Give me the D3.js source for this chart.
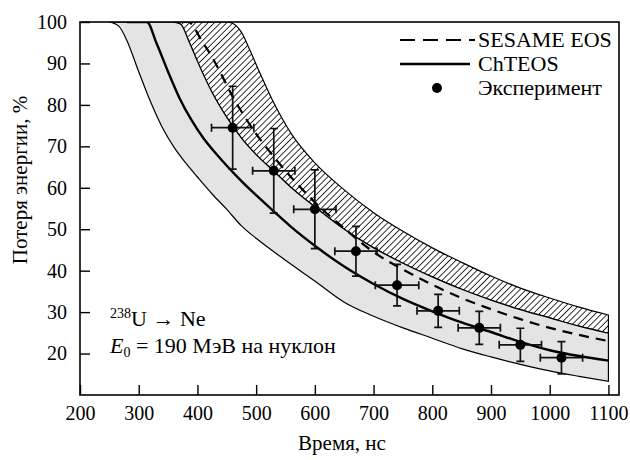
<!DOCTYPE html>
<html>
<head>
<meta charset="utf-8">
<script src="https://cdn.jsdelivr.net/npm/d3@7/dist/d3.min.js"></script>
<style>
  body { margin: 0; background: #fff; }
  svg text { font-family: "Liberation Serif", "Times New Roman", Times, "DejaVu Serif", serif; fill: #000; }
</style>
</head>
<body>
<svg id="chart" width="630" height="460"></svg>
<script>
// ChTEOS (solid line)
const chTime = [280, 314, 330, 350, 370, 390, 410, 430, 450, 475, 500, 530, 560, 600, 650, 700, 750, 800, 850, 900, 950, 1000, 1050, 1100];
const chLoss = [100, 100, 95, 88, 81.5, 76.3, 72, 68.5, 65.3, 61.6, 58.2, 54.3, 50.5, 46, 41, 36.8, 33.2, 30.2, 27.5, 25.2, 22.8, 20.8, 19.4, 18.3];

// SESAME EOS (dashed line)
const sesTime = [375, 385, 395, 405, 425, 442, 460, 479, 500, 530, 560, 600, 650, 700, 750, 800, 850, 900, 950, 1000, 1050, 1100];
const sesLoss = [100, 100, 98.5, 96, 91.5, 87, 82, 77.5, 73, 67.5, 62.5, 56.5, 50.2, 44.5, 40.3, 36.6, 33.4, 30.7, 28.3, 26.2, 24.5, 23];

// grey band (ChTEOS uncertainty), lower and upper edges
const greyLoTime = [250, 266, 280, 300, 320, 340, 360, 380, 400, 425, 450, 475, 500, 550, 600, 650, 700, 750, 800, 850, 900, 950, 1000, 1050, 1100];
const greyLoLoss = [100, 99, 95.5, 88, 80.8, 74.6, 69.8, 66, 62.6, 58.5, 54.8, 50.8, 47.8, 42.5, 37.5, 32.4, 29, 26.2, 23.7, 21.2, 19.2, 17.4, 15.8, 14.5, 13.3];
const greyHiTime = [355, 371, 385, 400, 425, 450, 475, 500, 530, 560, 600, 650, 700, 750, 800, 850, 900, 950, 1000, 1050, 1100];
const greyHiLoss = [100, 99.5, 95.5, 90.5, 83, 77, 72, 68, 64, 60, 55.4, 50, 45.5, 41.8, 38.5, 35.5, 32.9, 30.6, 28.6, 26.6, 24.9];

// hatched band (SESAME uncertainty), upper edge
const hatchHiTime = [450, 462, 475, 490, 507, 530, 560, 600, 650, 700, 750, 800, 850, 900, 950, 1000, 1050, 1100];
const hatchHiLoss = [100, 99.5, 97.5, 93, 87.5, 80.5, 73, 66, 59.5, 54, 49.5, 45.5, 42, 38.7, 35.8, 33.4, 31.2, 29.3];

// experiment
const expTime = [460, 530, 600, 670, 740, 810, 880, 950, 1020];
const expLoss = [74.5, 64.1, 54.8, 44.7, 36.5, 30.3, 26.2, 22.1, 19.0];
const expErrLoss = [10, 10.2, 9.5, 6, 5, 4, 4, 4, 3.9];
const expErrTime = [36, 36, 36, 36, 37, 36, 36, 36, 36];

const xTicks = [200, 300, 400, 500, 600, 700, 800, 900, 1000, 1100];
const yTicks = [20, 30, 40, 50, 60, 70, 80, 90, 100];

const svg = d3.select("#chart");
const mLeft = 80, mRight = 619, mTop = 22, mBottom = 395;
const serif = "'Liberation Serif', 'Times New Roman', serif";

const x = d3.scaleLinear().domain([200, 1118]).range([mLeft, mRight]);
const y = d3.scaleLinear().domain([10, 100]).range([mBottom, mTop]);

const zip = (ts, vs) => ts.map((t, i) => [t, vs[i]]);
const line = d3.line().x(d => x(d[0])).y(d => y(d[1])).curve(d3.curveMonotoneX);

const defs = svg.append("defs");
defs.append("clipPath").attr("id", "clip")
  .append("rect").attr("x", mLeft).attr("y", mTop).attr("width", mRight - mLeft).attr("height", mBottom - mTop);
const pat = defs.append("pattern")
  .attr("id", "hatch").attr("patternUnits", "userSpaceOnUse")
  .attr("width", 4.4).attr("height", 4.4)
  .attr("patternTransform", "rotate(45)");
pat.append("line").attr("x1", 0).attr("y1", 0).attr("x2", 0).attr("y2", 4.4)
  .attr("stroke", "#000").attr("stroke-width", 1.6);

const plot = svg.append("g").attr("clip-path", "url(#clip)");

// closed band from an upper edge and a lower edge
const band = (upT, upV, loT, loV) => {
  const pUp = line(zip(upT, upV));
  const pLo = line(zip(loT, loV).reverse());
  return pUp + "L" + pLo.slice(1) + "Z";
};

// hatched band: between hatch upper edge and grey upper edge
plot.append("path")
  .attr("d", band(hatchHiTime, hatchHiLoss, greyHiTime, greyHiLoss))
  .attr("fill", "url(#hatch)")
  .attr("stroke", "#000").attr("stroke-width", 1.2);

// grey band
plot.append("path")
  .attr("d", band(greyHiTime, greyHiLoss, greyLoTime, greyLoLoss))
  .attr("fill", "#e4e4e4")
  .attr("stroke", "#000").attr("stroke-width", 1.2);

// SESAME dashed
plot.append("path")
  .attr("d", line(zip(sesTime, sesLoss)))
  .attr("fill", "none").attr("stroke", "#000")
  .attr("stroke-width", 2.2).attr("stroke-dasharray", "10,7");

// ChTEOS solid
plot.append("path")
  .attr("d", line(zip(chTime, chLoss)))
  .attr("fill", "none").attr("stroke", "#000").attr("stroke-width", 2.4);

// experiment with error bars
const pts = plot.selectAll("g.pt")
  .data(expTime.map((t, i) => ({ t, v: expLoss[i], ev: expErrLoss[i], et: expErrTime[i] })))
  .join("g").attr("class", "pt");
const cap = 4;
pts.append("path")
  .attr("d", d => {
    const cx = x(d.t), cy = y(d.v);
    const x0 = x(d.t - d.et), x1 = x(d.t + d.et);
    const y0 = y(d.v - d.ev), y1 = y(d.v + d.ev);
    return `M${x0},${cy}H${x1}M${cx},${y0}V${y1}` +
      `M${x0},${cy - cap}V${cy + cap}M${x1},${cy - cap}V${cy + cap}` +
      `M${cx - cap},${y0}H${cx + cap}M${cx - cap},${y1}H${cx + cap}`;
  })
  .attr("fill", "none").attr("stroke", "#111").attr("stroke-width", 1.7);
pts.append("circle")
  .attr("cx", d => x(d.t)).attr("cy", d => y(d.v)).attr("r", 5)
  .attr("fill", "#000");

// frame and inward ticks
svg.append("rect")
  .attr("x", mLeft).attr("y", mTop).attr("width", mRight - mLeft).attr("height", mBottom - mTop)
  .attr("fill", "none").attr("stroke", "#000").attr("stroke-width", 1.6);

const xAxis = svg.append("g").attr("transform", `translate(0,${mBottom})`)
  .call(d3.axisBottom(x).tickValues(xTicks).tickFormat(d3.format("d"))
    .tickSizeInner(-10).tickSizeOuter(0).tickPadding(11));
const yAxis = svg.append("g").attr("transform", `translate(${mLeft},0)`)
  .call(d3.axisLeft(y).tickValues(yTicks).tickFormat(d3.format("d"))
    .tickSizeInner(-10).tickSizeOuter(0).tickPadding(13));
[xAxis, yAxis].forEach(a => {
  a.attr("font-family", serif);
  a.select(".domain").remove();
  a.selectAll(".tick line").attr("stroke", "#000").attr("stroke-width", 1.4);
  a.selectAll(".tick text").style("font-size", "20px")
    .style("font-family", serif).attr("fill", "#000");
});

// axis titles
svg.append("text").attr("x", 342).attr("y", 450).attr("text-anchor", "middle")
  .style("font-size", "21px").style("font-family", serif).text("Время, нс");
svg.append("text").attr("transform", "translate(27,180) rotate(-90)")
  .attr("text-anchor", "middle").style("font-size", "21px").style("font-family", serif)
  .text("Потеря энергии, %");

// legend
const lg = svg.append("g");
lg.append("line").attr("x1", 400).attr("x2", 475).attr("y1", 40).attr("y2", 40)
  .attr("stroke", "#000").attr("stroke-width", 2.2).attr("stroke-dasharray", "15,8");
lg.append("line").attr("x1", 400).attr("x2", 470).attr("y1", 64).attr("y2", 64)
  .attr("stroke", "#000").attr("stroke-width", 2.4);
lg.append("circle").attr("cx", 437).attr("cy", 88).attr("r", 5).attr("fill", "#000");
[["SESAME EOS", 47], ["ChTEOS", 71], ["Эксперимент", 95]].forEach(([s, yy]) => {
  lg.append("text").attr("x", 478).attr("y", yy)
    .style("font-size", "22px").style("font-family", serif).text(s);
});

// annotation
const ann = svg.append("text").attr("x", 110).attr("y", 326)
  .style("font-size", "22px").style("font-family", serif);
ann.append("tspan").attr("dy", -8).style("font-size", "14px").text("238");
ann.append("tspan").attr("dy", 8).text("U → Ne");
const ann2 = svg.append("text").attr("x", 110).attr("y", 353)
  .style("font-size", "22px").style("font-family", serif);
ann2.append("tspan").style("font-style", "italic").text("E");
ann2.append("tspan").attr("dy", 4).style("font-size", "14px").text("0");
ann2.append("tspan").attr("dy", -4).text(" = 190 МэВ на нуклон");
</script>
</body>
</html>
